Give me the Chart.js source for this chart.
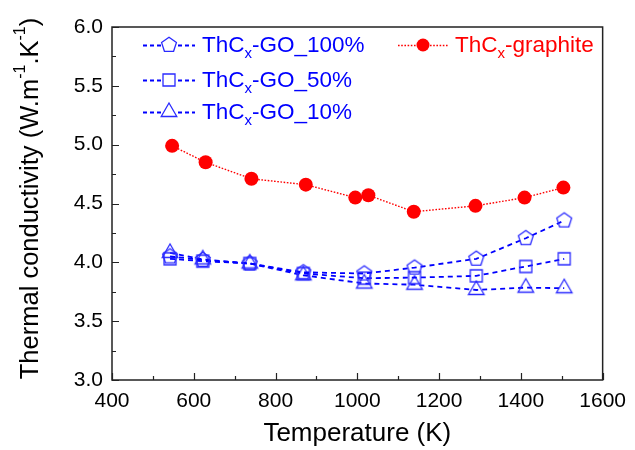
<!DOCTYPE html>
<html><head><meta charset="utf-8">
<script src="https://cdn.jsdelivr.net/npm/chart.js@4/dist/chart.umd.min.js"></script>
<style>html,body{margin:0;padding:0;background:#fff}canvas{display:block}</style>
</head><body>
<canvas id="c" width="635" height="450"></canvas>
<script>
// ---- data ----
const tempGO = [542, 622, 737, 868, 1017, 1140, 1291, 1412, 1506];
const go100 = [4.05, 4.02, 3.99, 3.915, 3.905, 3.955, 4.03, 4.205, 4.355];
const go50  = [4.03, 4.01, 3.99, 3.905, 3.865, 3.87, 3.885, 3.965, 4.03];
const go10  = [4.08, 4.025, 3.99, 3.89, 3.82, 3.81, 3.765, 3.785, 3.78];
const tempGraphite = [547, 629, 741, 874, 995, 1027, 1138, 1289, 1409, 1504];
const graphite = [4.99, 4.85, 4.71, 4.66, 4.55, 4.57, 4.43, 4.48, 4.55, 4.635];
const xTickLabels = ['400','600','800','1000','1200','1400','1600'];
const yTickLabels = ['3.0','3.5','4.0','4.5','5.0','5.5','6.0'];
const seriesNames = [
  ['ThC','x','-GO_100%'],
  ['ThC','x','-GO_50%'],
  ['ThC','x','-GO_10%'],
  ['ThC','x','-graphite']
];
const xTitle = 'Temperature (K)';
const yTitleParts = [['Thermal conductivity (W.m',0],['-1',1],['.K',0],['-1',1],[')',0]];

const FONT = '"Liberation Sans", Arial, Helvetica, sans-serif';
const BLUE = '#0000ff';
const BLUE_MK = '#2a2aff';
const RED = '#ff0000';

function makeMarker(type){
  const s = 22, c = document.createElement('canvas');
  c.width = s; c.height = s;
  const g = c.getContext('2d');
  g.strokeStyle = BLUE_MK; g.lineWidth = 1.3; g.lineJoin='miter';
  const cx = s/2, cy = s/2;
  g.beginPath();
  if (type === 'pentagon') {
    const r = 7.8;
    for (let i = 0; i < 5; i++) {
      const a = -Math.PI/2 + i*2*Math.PI/5;
      const px = cx + r*Math.cos(a), py = cy + r*Math.sin(a);
      if (i) g.lineTo(px, py); else g.moveTo(px, py);
    }
    g.closePath();
  } else if (type === 'square') {
    g.rect(cx-6, cy-6, 12, 12);
  } else {
    const r = 9;
    g.moveTo(cx, cy-r);
    g.lineTo(cx + r*0.866, cy + r/2);
    g.lineTo(cx - r*0.866, cy + r/2);
    g.closePath();
  }
  g.stroke();
  return c;
}
const mkPent = makeMarker('pentagon');
const mkSq = makeMarker('square');
const mkTri = makeMarker('triangle');

const pts = (xs, ys) => xs.map((x, i) => ({x, y: ys[i]}));

function blueSet(name, ys, mk){
  return {label: name.join(''), data: pts(tempGO, ys), showLine: true,
    borderColor: BLUE, borderWidth: 1.8, borderDash: [5,4], fill: false,
    pointStyle: mk, pointRadius: 8, pointHoverRadius: 8, tension: 0, _mk: mk};
}

const datasets = [
  blueSet(seriesNames[0], go100, mkPent),
  blueSet(seriesNames[1], go50, mkSq),
  blueSet(seriesNames[2], go10, mkTri),
  {label: seriesNames[3].join(''), data: pts(tempGraphite, graphite), showLine: true,
   borderColor: RED, borderWidth: 1.4, borderDash: [1.6,1.6], fill:false,
   pointStyle: 'circle', pointRadius: 7, pointHoverRadius: 7,
   pointBackgroundColor: RED, pointBorderColor: RED, pointBorderWidth: 0, tension:0}
];

function isMajorX(v){ return xTickLabels.indexOf(String(v)) >= 0; }
function isMajorY(v){ return yTickLabels.indexOf(Number(v).toFixed(1)) >= 0 && Math.abs(v*2 - Math.round(v*2)) < 1e-6; }

const framePlugin = {
  id: 'framePlugin',
  afterDraw(chart){
    const ctx = chart.ctx, a = chart.chartArea;
    const xs = chart.scales.x, ys = chart.scales.y;
    ctx.save();
    ctx.strokeStyle = '#222'; ctx.lineWidth = 1.5;
    ctx.strokeRect(a.left, a.top, a.right - a.left, a.bottom - a.top);
    ctx.lineWidth = 1.2;
    ctx.beginPath();
    xs.ticks.forEach(t => {
      const px = Math.round(xs.getPixelForValue(t.value)) + 0.5;
      const L = isMajorX(t.value) ? 7 : 4;
      ctx.moveTo(px, a.bottom); ctx.lineTo(px, a.bottom - L);
    });
    ys.ticks.forEach(t => {
      const py = Math.round(ys.getPixelForValue(t.value)) + 0.5;
      const L = isMajorY(t.value) ? 7 : 4;
      ctx.moveTo(a.left, py); ctx.lineTo(a.left + L, py);
    });
    ctx.stroke();

    // axis titles
    ctx.fillStyle = '#000';
    ctx.font = '26px ' + FONT;
    ctx.textAlign = 'center'; ctx.textBaseline = 'middle';
    ctx.fillText(xTitle, (a.left + a.right)/2, 434);

    // y title with superscripts
    ctx.save();
    ctx.translate(31, (a.top + a.bottom)/2 - 5);
    ctx.rotate(-Math.PI/2);
    ctx.textAlign = 'left'; ctx.textBaseline = 'middle';
    const big = '25.5px ' + FONT, small = '16px ' + FONT;
    let w = 0;
    yTitleParts.forEach(([s, sup]) => { ctx.font = sup ? small : big; w += ctx.measureText(s).width; });
    let x = -w/2;
    yTitleParts.forEach(([s, sup]) => {
      ctx.font = sup ? small : big;
      ctx.fillText(s, x, sup ? -10 : 0);
      x += ctx.measureText(s).width;
    });
    ctx.restore();

    // legend
    const items = [
      {ds: 0, x1: 143, x2: 195, y: 45},
      {ds: 1, x1: 143, x2: 195, y: 80},
      {ds: 2, x1: 143, x2: 195, y: 112},
      {ds: 3, x1: 398, x2: 448, y: 45}
    ];
    items.forEach(it => {
      const d = chart.data.datasets[it.ds];
      ctx.save();
      ctx.strokeStyle = d.borderColor; ctx.lineWidth = d.borderWidth;
      ctx.setLineDash(it.ds === 3 ? [1.6,1.6] : [4,3]);
      ctx.beginPath(); ctx.moveTo(it.x1, it.y + 0.5); ctx.lineTo(it.x2, it.y + 0.5); ctx.stroke();
      ctx.restore();
      const mx = (it.x1 + it.x2)/2;
      if (d._mk) {
        ctx.fillStyle = '#fff';
        ctx.fillRect(mx - 8, it.y - 8, 16, 16);
        ctx.drawImage(d._mk, mx - d._mk.width/2, it.y - d._mk.height/2);
      } else {
        ctx.fillStyle = RED; ctx.beginPath(); ctx.arc(mx, it.y, 6.5, 0, Math.PI*2); ctx.fill();
      }
      const parts = seriesNames[it.ds];
      ctx.fillStyle = it.ds === 3 ? RED : BLUE;
      ctx.textAlign = 'left'; ctx.textBaseline = 'middle';
      let tx = it.x2 + 7;
      ctx.font = '22.5px ' + FONT; ctx.fillText(parts[0], tx, it.y + 1); tx += ctx.measureText(parts[0]).width;
      ctx.font = '15px ' + FONT; ctx.fillText(parts[1], tx, it.y + 9); tx += ctx.measureText(parts[1]).width;
      ctx.font = '22.5px ' + FONT; ctx.fillText(parts[2], tx, it.y + 1);
    });
    ctx.restore();
  }
};

new Chart(document.getElementById('c'), {
  type: 'scatter',
  data: {datasets},
  options: {
    responsive: false, animation: false, events: [],
    layout: {padding: {top: 27, right: 26, left: 0, bottom: 0}},
    plugins: {legend: {display: false}, tooltip: {enabled: false}},
    scales: {
      x: {type: 'linear', min: 400, max: 1600,
        afterFit(s){ s.height = 70; },
        grid: {display: false, drawTicks: false}, border: {display: false},
        ticks: {stepSize: 100, autoSkip: false, maxRotation: 0, padding: 9, color: '#000',
          font: {size: 21, family: FONT},
          callback: v => isMajorX(v) ? xTickLabels[xTickLabels.indexOf(String(v))] : ''}},
      y: {type: 'linear', min: 3, max: 6,
        afterFit(s){ s.width = 112; },
        grid: {display: false, drawTicks: false}, border: {display: false},
        ticks: {stepSize: 0.25, autoSkip: false, padding: 9, color: '#000',
          font: {size: 21, family: FONT},
          callback: v => isMajorY(v) ? yTickLabels[yTickLabels.indexOf(Number(v).toFixed(1))] : ''}}
    }
  },
  plugins: [framePlugin]
});
</script>
</body></html>
